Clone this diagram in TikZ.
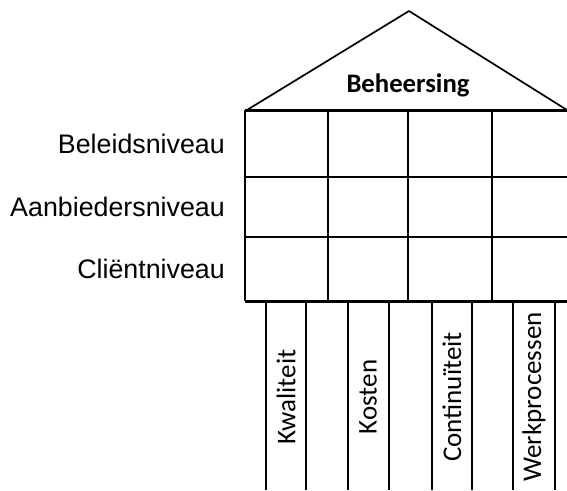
\documentclass[tikz,border=0pt]{standalone}
\usepackage{fontspec}
\setmainfont{Liberation Sans}
\newfontfamily\calibri{Carlito}
\begin{document}
\begin{tikzpicture}[
		x=1pt, y=-1pt,
		declare function = {
				xL = 245;
				xR = 567;
				yDak = 110;
				yVoet = 301;
			},
		dun/.style={line width=1.7pt},
		dik/.style={line width=3pt},
		niveau/.style={anchor=east, inner sep=0pt, font=\fontsize{26.8}{30}\selectfont},
		pijler/.style={rotate=90, font=\calibri\fontsize{27}{30}\selectfont},
	]
	\path[use as bounding box] (0,0) rectangle (567,490);
	% dak
	\draw[dun, line join=round] (xL+2,yDak) -- (409,11) -- (xR,yDak);
	\node[font=\calibri\bfseries\fontsize{26.7}{30}\selectfont] (beheersing) at (408,85) {Beheersing};
	% niveaus
	\foreach \y in {177,237} \draw[dun] (xL,\y) -- (xR,\y);
	\foreach \x in {328,408,492} \draw[dun] (\x,yDak) -- (\x,yVoet);
	\draw[dun] (xL,yDak) -- (xL,yVoet);
	\draw[dik] (xL,yDak) -- (xR,yDak);
	\draw[dik] (xL,yVoet) -- (xR,yVoet);
	\node[niveau] (beleid) at (225,144) {Beleidsniveau};
	\node[niveau] (aanbieder) at (225,207) {Aanbiedersniveau};
	\node[niveau] (client) at (225,269) {Cliëntniveau};
	% pijlers
	\foreach \x in {266,306,348,389,432,472,513,555} \draw[dun] (\x,yVoet) -- (\x,490);
	\node[pijler] (kwaliteit) at (286,397) {Kwaliteit};
	\node[pijler] (kosten) at (368,397) {Kosten};
	\node[pijler] (continuiteit) at (452,397) {Continuïteit};
	\node[pijler] (werkprocessen) at (534,397) {Werkprocessen};
\end{tikzpicture}
\end{document}
